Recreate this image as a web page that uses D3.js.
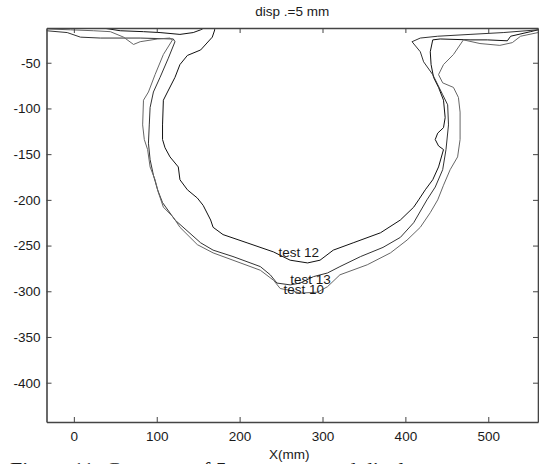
<!DOCTYPE html>
<html>
<head>
<meta charset="utf-8">
<script src="https://cdn.jsdelivr.net/npm/d3@7"></script>
<style>
  body { margin: 0; background: #fff; overflow: hidden; }
  text { font-family: "Liberation Sans", Arial, sans-serif; fill: #1a1a1a; }
</style>
</head>
<body>
<div id="chart"></div>
<script>
// ticks
const xTicks = [0, 100, 200, 300, 400, 500];
const yTicks = [-50, -100, -150, -200, -250, -300, -350, -400];

// contours, [X(mm), Y(mm)]
const test12 = [
  [-33, -5], [-4, -7], [28, -11], [56, -15], [84, -16], [104, -17], [128, -19],
  [144, -17], [153, -14], [161, -10], [166, -7], [170, -14], [167, -22],
  [153, -36], [137, -42], [128, -52], [122, -66], [113, -82], [108, -91],
  [107, -118], [107, -134], [110, -143], [116, -153], [126, -164], [128, -178],
  [137, -189], [149, -198], [156, -206], [165, -222], [168, -230], [180, -238],
  [209, -247], [241, -257], [261, -266], [282, -269], [297, -266], [313, -255],
  [337, -247], [370, -236], [394, -222], [410, -208], [416, -200], [424, -189],
  [433, -178], [440, -164], [446, -145], [440, -141], [436, -134], [439, -127],
  [446, -121], [448, -110], [446, -91], [440, -77], [434, -66], [431, -52],
  [430, -38], [433, -25], [442, -24], [478, -25], [499, -25], [523, -26],
  [527, -21], [551, -16], [560, -14]
];
const test13 = [
  [-33, -15], [-8, -17], [8, -22], [32, -23], [80, -23], [120, -24],
  [122, -27], [114, -45], [104, -66], [96, -82], [92, -99], [91, -118],
  [90, -138], [92, -156], [96, -173], [101, -189], [107, -203], [122, -222],
  [153, -247], [168, -255], [192, -262], [225, -273], [237, -282], [245, -291],
  [261, -293], [273, -291], [289, -284], [306, -280], [321, -273], [346, -262],
  [373, -252], [394, -241], [410, -225], [426, -200], [436, -186], [445, -167],
  [449, -145], [452, -118], [451, -96], [445, -85], [433, -63], [422, -49],
  [418, -38], [408, -27], [418, -23], [439, -21], [478, -19], [518, -17], [560, -14]
];
const test10 = [
  [-33, -13], [-4, -14], [24, -15], [44, -16], [60, -22], [72, -30], [80, -27],
  [101, -24], [116, -23], [119, -25], [108, -41], [98, -63], [90, -82],
  [84, -91], [83, -118], [85, -134], [89, -145], [92, -164], [98, -178],
  [102, -192], [108, -208], [120, -219], [128, -230], [149, -249], [168, -258],
  [192, -266], [225, -277], [241, -288], [249, -297], [261, -299], [273, -302],
  [294, -301], [306, -295], [321, -282], [354, -271], [382, -258], [402, -244],
  [418, -230], [430, -214], [439, -200], [446, -184], [454, -167], [463, -153],
  [466, -134], [466, -104], [464, -88], [458, -77], [445, -72], [440, -63],
  [446, -52], [458, -41], [470, -25], [490, -29], [514, -31], [529, -28],
  [539, -21], [560, -17]
];

const series = [
  { name: "test 12", values: test12, color: "#111", at: [247, -262] },
  { name: "test 13", values: test13, color: "#333", at: [261, -292] },
  { name: "test 10", values: test10, color: "#666", at: [253, -303] }
];

const w = 539;
const h = 464;
const margin = { top: 28, right: 1, bottom: 42, left: 46.5 };

const x = d3.scaleLinear()
  .domain([-33, 560])
  .range([margin.left, w - margin.right]);

const y = d3.scaleLinear()
  .domain([-443, -12])
  .range([h - margin.bottom, margin.top]);

const svg = d3.select("#chart")
  .append("svg")
  .attr("width", w)
  .attr("height", h);

svg.append("clipPath")
  .attr("id", "plot")
  .append("rect")
  .attr("x", margin.left)
  .attr("y", margin.top)
  .attr("width", w - margin.left - margin.right)
  .attr("height", h - margin.top - margin.bottom);

const line = d3.line()
  .x(d => x(d[0]))
  .y(d => y(d[1]));

svg.append("g")
  .attr("clip-path", "url(#plot)")
  .selectAll("path")
  .data(series)
  .enter()
  .append("path")
  .attr("d", d => line(d.values))
  .attr("fill", "none")
  .attr("stroke", d => d.color)
  .attr("stroke-width", 1)
  .attr("stroke-linejoin", "round");

svg.selectAll(".label")
  .data(series)
  .enter()
  .append("text")
  .attr("class", "label")
  .attr("x", d => x(d.at[0]))
  .attr("y", d => y(d.at[1]))
  .attr("font-size", "13.5px")
  .text(d => d.name);

// axes, ticks inside like the original box; plain hyphen for negatives
const xAxis = d3.axisBottom(x).tickValues(xTicks).tickSize(-5).tickSizeOuter(0).tickPadding(9);
const yAxis = d3.axisLeft(y).tickValues(yTicks).tickSize(-5).tickSizeOuter(0).tickPadding(6)
  .tickFormat(d => String(d));

svg.append("g")
  .attr("transform", `translate(0, ${h - margin.bottom})`)
  .call(xAxis);

svg.append("g")
  .attr("transform", `translate(${margin.left}, 0)`)
  .call(yAxis);

svg.append("g")
  .attr("transform", `translate(0, ${margin.top})`)
  .call(d3.axisTop(x).tickValues(xTicks).tickSize(-5).tickSizeOuter(0).tickFormat(""));

svg.append("g")
  .attr("transform", `translate(${w - margin.right}, 0)`)
  .call(d3.axisRight(y).tickValues(yTicks).tickSize(-5).tickSizeOuter(0).tickFormat(""));

svg.selectAll(".domain").attr("stroke", "#444").attr("stroke-width", 1.6);
svg.selectAll(".tick line").attr("stroke", "#444");
svg.selectAll(".tick text")
  .attr("font-size", "13.5px")
  .attr("font-family", "'Liberation Sans', Arial, sans-serif")
  .attr("fill", "#1a1a1a");

svg.append("text")
  .attr("x", (margin.left + w - margin.right) / 2)
  .attr("y", 16)
  .attr("text-anchor", "middle")
  .attr("font-size", "13.5px")
  .text("disp .=5 mm");

svg.append("text")
  .attr("x", (margin.left + w - margin.right) / 2 - 3)
  .attr("y", 459)
  .attr("text-anchor", "middle")
  .attr("font-size", "13.5px")
  .text("X(mm)");

// figure caption below the chart, cut off by the picture edge
svg.append("text")
  .attr("x", 10)
  .attr("y", 477)
  .attr("font-size", "22px")
  .style("font-family", "'Liberation Serif', 'Times New Roman', serif")
  .text("Figure 11: Contours of 5 mm measured displacement");
</script>
</body>
</html>
